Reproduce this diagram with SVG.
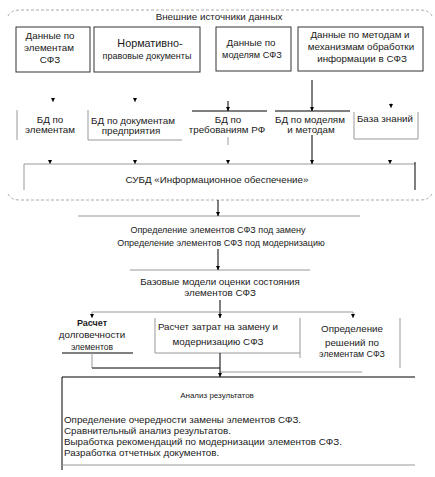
<svg xmlns="http://www.w3.org/2000/svg" width="435" height="477" viewBox="0 0 435 477">
<style>
text{font-family:"Liberation Sans",Arial,sans-serif;font-size:9.8px;fill:#1a1a1a;text-anchor:middle}
.l{text-anchor:start}
.box{fill:none;stroke:#333;stroke-width:1}
.k{stroke:#000;stroke-width:1;fill:none}
.g{stroke:#999;stroke-width:1;fill:none}
.d{stroke:#aaa;stroke-width:1;fill:none;stroke-dasharray:3,2}
.a{marker-end:url(#ah)}
</style>
<defs>
<marker id="ah" markerUnits="userSpaceOnUse" markerWidth="4" markerHeight="4" refX="4" refY="2" orient="auto">
<path d="M0,0 L4,2 L0,4 z" fill="#000"/>
</marker>
</defs>
<rect width="435" height="477" fill="#fff"/>

<g id="outer">
<path class="d" d="M8,16 Q11,10 20,10 L420,10 Q429,10 432,16"/>
<path class="d" d="M8,194 Q11,200 20,200 L420,200 Q429,200 432,194"/>
<text x="219" y="20">Внешние источники данных</text>
</g>

<g id="n1"><rect class="box" x="16" y="27" width="74" height="45"/>
<text x="50" y="39">Данные по</text><text x="49" y="51">элементам</text><text x="50" y="63">СФЗ</text></g>
<g id="n2"><rect class="box" x="94" y="27" width="106" height="45"/>
<text x="150" y="47" style="font-size:10.8px">Нормативно-</text><text x="147" y="59" style="font-size:9px">правовые документы</text></g>
<g id="n3"><rect class="box" x="216" y="27" width="75" height="44"/>
<text x="251" y="46">Данные по</text><text x="252" y="58" style="font-size:9.2px">моделям СФЗ</text></g>
<g id="n4"><rect class="box" x="298" y="27" width="125" height="44"/>
<text x="360" y="38">Данные по методам и</text><text x="361" y="50">механизмам обработки</text><text x="362" y="62">информации в СФЗ</text></g>

<g id="bd1"><path class="g" d="M17,110 V140"/><text x="50" y="123">БД по</text><text x="50" y="133">элементам</text></g>
<g id="bd2"><path class="g" d="M88,110 V140 H182"/><text x="133" y="124">БД по документам</text><text x="131" y="134">предприятия</text></g>
<g id="bd3"><path class="k" d="M192,111 H267"/><text x="228" y="123">БД по</text><text x="227" y="133">требованиям РФ</text></g>
<g id="bd4"><path class="k" d="M275,111 H350"/><text x="310" y="123">БД по моделям</text><text x="311" y="133">и методам</text></g>
<g id="kb"><path class="g" d="M354,112 V139 H418 V112"/><text x="385" y="122">База знаний</text></g>

<g id="subd"><path class="g" d="M24,190 V164 H415"/><path class="k" d="M415,162 V190"/>
<text x="217" y="183">СУБД «Информационное обеспечение»</text></g>

<g id="def"><path class="g" d="M78,216 H360"/>
<text x="218" y="233" style="font-size:9px">Определение элементов СФЗ под замену</text>
<text x="221" y="246" style="font-size:9px">Определение элементов СФЗ под модернизацию</text></g>

<g id="models"><path class="g" d="M130,270 H310"/>
<text x="220" y="285">Базовые модели оценки состояния</text>
<text x="220" y="296">элементов СФЗ</text></g>

<g id="r1"><path class="k" d="M62,353 H133"/>
<text x="92" y="326" style="font-weight:bold;font-size:9px">Расчет</text><text x="92" y="338">долговечности</text><text x="92" y="350" style="font-size:8.5px">элементов</text></g>
<g id="r2"><path class="g" d="M155,318 V353 H300"/><path class="g" d="M300,318 V358"/>
<text x="218" y="330">Расчет затрат на замену и</text><text x="218" y="345">модернизацию СФЗ</text></g>
<g id="r3"><path class="g" d="M400,318 V368"/>
<text x="352" y="332">Определение</text><text x="352" y="346">решений по</text><text x="352" y="357" style="font-size:8.8px">элементам СФЗ</text></g>

<g id="res"><path class="k" d="M62,470 V377 H415"/><path class="g" d="M62,465 H415"/>
<text x="217" y="398" style="font-size:8px">Анализ результатов</text>
<text class="l" x="64" y="423">Определение очередности замены элементов СФЗ.</text>
<text class="l" x="64" y="434">Сравнительный анализ результатов.</text>
<text class="l" x="64" y="445">Выработка рекомендаций по модернизации элементов СФЗ.</text>
<text class="l" x="64" y="456">Разработка отчетных документов.</text></g>

<g id="connectors">
<path class="g a" d="M53,98 V102"/>
<path class="g a" d="M135,98 V102"/>
<path class="k a" d="M228,101 V111"/>
<path class="k a" d="M312,80 V111"/>
<path class="g a" d="M391,103 V108"/>
<path class="g" d="M228,137 V145"/>
<path class="g a" d="M50,160 V164"/>
<path class="g a" d="M135,160 V164"/>
<path class="g a" d="M228,160 V164"/>
<path class="k a" d="M312,135 V164"/>
<path class="g a" d="M390,160 V164"/>
<path class="k a" d="M218,200 V216"/>
<path class="k a" d="M218,249 V270"/>
<path class="k" d="M220,300 V312"/>
<path class="g" d="M92,312 H353"/>
<path class="g a" d="M92,312 V318"/>
<path class="k a" d="M220,312 V318"/>
<path class="g a" d="M353,312 V318"/>
<path class="g" d="M92,353 V368"/>
<path class="k" d="M92,368 H220"/>
<path class="g" d="M220,372 H362"/>
<path class="k a" d="M220,353 V377"/>
</g>
</svg>
